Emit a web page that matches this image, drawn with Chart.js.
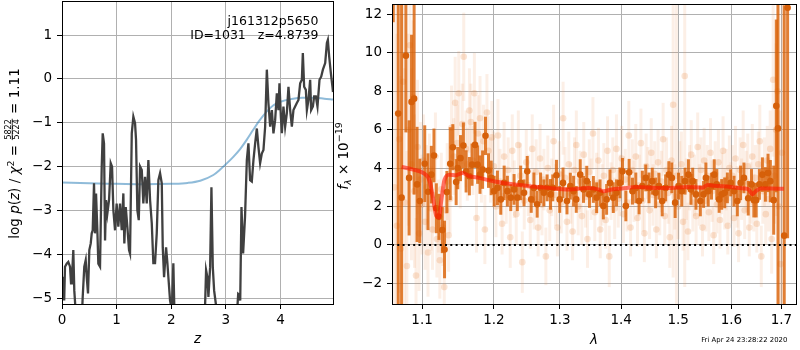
<!DOCTYPE html>
<html>
<head>
<meta charset="utf-8">
<title>j161312p5650 redshift fit</title>
<script src="https://cdn.jsdelivr.net/npm/chart.js@4.4.1/dist/chart.umd.min.js"></script>
<style>
  html, body { margin: 0; padding: 0; background: #fff; }
  #wrap { position: relative; width: 800px; height: 350px; }
  #pzChart { position: absolute; left: 0; top: 0; }
  #specChart { position: absolute; left: 335px; top: 0; }
</style>
</head>
<body>
<div id="wrap">
  <canvas id="pzChart" width="335" height="350"></canvas>
  <canvas id="specChart" width="465" height="350"></canvas>
</div>
<script>
// ============================================================
// p(z) + spectrum panels for a single grism extraction
// ============================================================

const FONT = 'DejaVu Sans';

// ── Left panel: log p(z) ─────────────────────────────────────
const zGrid = [
  0.000, 0.010, 0.040, 0.055, 0.086, 0.115, 0.147, 0.165, 0.183, 0.207,
  0.225, 0.250, 0.300, 0.340, 0.365, 0.379, 0.408, 0.434, 0.452, 0.476,
  0.500, 0.526, 0.544, 0.562, 0.586, 0.604, 0.623, 0.647, 0.665, 0.696,
  0.727, 0.745, 0.769, 0.788, 0.806, 0.830, 0.861, 0.892, 0.916, 0.940,
  0.971, 1.000, 1.031, 1.062, 1.093, 1.123, 1.141, 1.167, 1.196, 1.227,
  1.245, 1.277, 1.306, 1.337, 1.355, 1.379, 1.405, 1.429, 1.460, 1.489,
  1.520, 1.551, 1.581, 1.612, 1.643, 1.672, 1.703, 1.734, 1.764, 1.795,
  1.826, 1.844, 1.868, 1.905, 1.929, 1.947, 1.978, 2.010, 2.038, 2.057,
  2.200, 2.600, 2.637, 2.661, 2.680, 2.711, 2.735, 2.760, 2.784, 2.808,
  2.833, 2.950, 3.150, 3.205, 3.225, 3.245, 3.262, 3.285, 3.315, 3.350,
  3.383, 3.412, 3.443, 3.474, 3.504, 3.535, 3.566, 3.595, 3.626, 3.657,
  3.687, 3.718, 3.749, 3.778, 3.810, 3.841, 3.870, 3.901, 3.932, 3.962,
  3.980, 4.006, 4.024, 4.053, 4.084, 4.115, 4.145, 4.176, 4.207, 4.236,
  4.267, 4.298, 4.328, 4.359, 4.390, 4.408, 4.432, 4.463, 4.482, 4.511,
  4.542, 4.560, 4.592, 4.615, 4.646, 4.676, 4.713, 4.744, 4.775, 4.817,
  4.848, 4.866, 4.890, 4.921, 4.950, 4.960
];
const logPz = [
  -4.55, -4.51, -5.05, -4.28, -4.21, -4.17, -4.28, -4.66, -4.51, -3.90,
  -4.82, -5.30, -5.80, -5.80, -5.40, -4.97, -4.28, -4.13, -4.51, -4.89,
  -3.90, -3.75, -3.52, -3.45, -2.38, -3.52, -2.61, -3.45, -4.21, -4.28,
  -2.00, -1.24, -1.47, -3.68, -2.76, -3.07, -2.76, -1.92, -2.00, -2.99,
  -3.45, -2.84, -3.37, -2.84, -3.45, -2.61, -3.75, -2.92, -3.37, -3.90,
  -3.98, -1.24, -0.86, -1.01, -1.39, -2.99, -3.22, -2.00, -2.08, -2.84,
  -2.23, -2.84, -1.85, -2.76, -3.29, -4.20, -4.20, -3.52, -2.31, -2.15,
  -2.38, -3.84, -4.52, -3.84, -4.20, -4.52, -5.05, -5.27, -4.20, -5.30,
  -6.00, -6.00, -4.36, -4.52, -4.97, -4.29, -2.47, -4.29, -4.82, -5.05,
  -5.30, -6.00, -6.00, -5.30, -4.90, -4.92, -5.05, -2.92, -3.98, -3.14,
  -1.85, -1.47, -2.31, -2.34, -1.85, -1.47, -1.13, -1.55, -1.92, -1.70,
  -1.62, -1.09, 0.21, -0.55, -1.09, -0.71, -1.24, -0.94, -0.33, -0.71,
  -0.10, -0.86, -1.24, -0.63, -1.09, -0.78, -0.18, -0.71, -1.09, -0.71,
  -0.63, -0.55, -0.48, -0.10, -0.02, 0.59, -0.18, -0.25, -0.71, -0.48,
  -0.02, -0.71, -0.63, -0.40, -0.40, -0.63, -0.02, 0.05, 0.21, 0.36,
  0.82, 0.89, 0.51, 0.13, -0.18, -0.30
];
const zPrior = [0, 0.5, 1, 1.5, 2, 2.3, 2.53, 2.77, 2.89, 3.02, 3.14, 3.26,
  3.38, 3.5, 3.62, 3.75, 3.87, 4.0, 4.2, 4.4, 4.6, 4.8, 4.96];
const logPrior = [-2.36, -2.38, -2.39, -2.40, -2.39, -2.37, -2.32, -2.19, -2.07,
  -1.92, -1.77, -1.60, -1.39, -1.16, -0.94, -0.74, -0.60, -0.52, -0.46, -0.43,
  -0.43, -0.45, -0.47];
const zTicks = [0, 1, 2, 3, 4];
const pzTicks = [-5, -4, -3, -2, -1, 0, 1];

// ── Right panel: 1D spectrum ─────────────────────────────────
// grism pixels of the primary extraction
const darkLam = [
  1.0623, 1.0687, 1.0731, 1.0787, 1.0829, 1.0861, 1.0895, 1.0934, 1.0970, 1.1036,
  1.1080, 1.1125, 1.1160, 1.1192, 1.1227, 1.1273, 1.1304, 1.1336, 1.1382, 1.1418,
  1.1464, 1.1486, 1.1524, 1.1565, 1.1603, 1.1649, 1.1687, 1.1729, 1.1766, 1.1800,
  1.1837, 1.1879, 1.1922, 1.1961, 1.2004, 1.2052, 1.2101, 1.2150, 1.2198, 1.2248,
  1.2297, 1.2346, 1.2396, 1.2446, 1.2495, 1.2555, 1.2596, 1.2646, 1.2698, 1.2749,
  1.2799, 1.2852, 1.2887, 1.2945, 1.2996, 1.3048, 1.3111, 1.3164, 1.3216, 1.3259,
  1.3323, 1.3376, 1.3429, 1.3472, 1.3537, 1.3591, 1.3647, 1.3701, 1.3756, 1.3812,
  1.3867, 1.3922, 1.3979, 1.4023, 1.4080, 1.4136, 1.4193, 1.4251, 1.4307, 1.4364,
  1.4423, 1.4480, 1.4538, 1.4597, 1.4655, 1.4714, 1.4774, 1.4833, 1.4886, 1.4946,
  1.5007, 1.5066, 1.5126, 1.5188, 1.5236, 1.5267, 1.5328, 1.5409, 1.5470, 1.5513,
  1.5557, 1.5619, 1.5670, 1.5719, 1.5764, 1.5813, 1.5871, 1.5922, 1.5986, 1.6051,
  1.6115, 1.6179, 1.6245, 1.6329, 1.6394, 1.6441, 1.6487, 1.6552, 1.6612, 1.6672,
  1.6726, 1.6773, 1.6841, 1.6894, 1.6929, 1.7057, 1.7127
];
const darkFlux = [
  16.0, 6.84, 2.46, 9.86, 3.49, 7.45, 7.62, 3.15, 2.29, 4.23,
  2.77, 3.66, 4.66, 1.91, 1.46, 0.77, -0.24, 2.75, 4.23, 5.09,
  3.27, 4.00, 4.52, 5.18, 3.83, 3.58, 4.18, 5.21, 4.18, 3.66,
  3.92, 5.68, 3.87, 3.49, 2.80, 2.97, 2.37, 3.23, 2.80, 2.46,
  2.89, 2.46, 3.23, 2.71, 3.83, 2.37, 2.97, 2.12, 2.97, 2.71,
  2.97, 2.63, 2.97, 3.63, 2.37, 3.23, 2.29, 3.06, 2.80, 2.37,
  3.66, 2.89, 3.32, 2.63, 2.89, 2.46, 2.71, 2.03, 2.37, 3.23,
  2.46, 2.71, 3.23, 3.83, 2.03, 3.78, 2.80, 2.97, 2.29, 3.06,
  3.49, 2.97, 3.32, 2.71, 3.06, 2.29, 2.97, 3.66, 3.49, 2.20,
  3.06, 2.80, 3.32, 3.66, 2.89, 3.32, 2.63, 2.29, 2.63, 3.49,
  2.80, 3.06, 3.66, 3.15, 2.37, 2.63, 2.71, 2.97, 3.23, 2.80,
  2.29, 3.23, 3.49, 2.43, 3.15, 2.33, 2.33, 3.15, 3.66, 3.15,
  3.75, 3.32, 2.33, 7.24, 6.07, 0.48, 12.35
];
const darkErr = [
  4.4, 15, 15, 4, 3, 3.5, 5, 3, 2.2, 2.0,
  2.0, 1.5, 1.4, 1.3, 1.2, 1.2, 1.5, 1.1, 1.9, 1.2,
  1.2, 1.1, 1.2, 1.2, 1.1, 1.0, 1.1, 1.2, 1.0, 1.0,
  1.0, 1.0, 0.9, 0.9, 0.8, 0.9, 0.8, 0.9, 0.8, 0.7,
  0.8, 0.7, 0.9, 0.7, 0.8, 0.7, 0.8, 0.7, 0.8, 0.7,
  0.7, 0.8, 0.7, 0.8, 0.7, 0.8, 0.7, 0.7, 0.8, 0.7,
  0.8, 0.7, 0.8, 0.7, 0.7, 0.8, 0.7, 0.7, 0.8, 0.7,
  0.8, 0.7, 0.8, 0.7, 0.8, 0.7, 0.7, 0.8, 0.7, 0.8,
  0.7, 0.8, 0.7, 0.8, 0.7, 0.8, 0.7, 0.7, 0.8, 0.8,
  0.7, 0.8, 0.7, 0.8, 0.8, 0.7, 0.8, 0.8, 0.7, 0.8,
  0.8, 0.7, 0.8, 0.8, 0.7, 0.8, 0.8, 0.8, 0.7, 0.8,
  0.8, 0.9, 0.8, 0.9, 0.8, 0.9, 0.9, 0.8, 0.9, 0.9,
  1.0, 1.1, 1.8, 4.5, 12, 12, 12
];

// individual beams, drawn faint underneath
const faintLam = [
  1.064, 1.067, 1.070, 1.072, 1.075, 1.077, 1.080, 1.082, 1.084, 1.086, 1.088, 1.090, 1.092, 1.094, 1.096, 1.098,
  1.100, 1.102, 1.104, 1.106, 1.108, 1.110, 1.112, 1.114, 1.116, 1.118, 1.120, 1.122, 1.124, 1.126, 1.128, 1.130, 1.132, 1.134, 1.136, 1.138,
  1.140, 1.143, 1.145, 1.148, 1.150, 1.152, 1.155, 1.157, 1.160, 1.162, 1.165, 1.167, 1.170, 1.172, 1.175, 1.177, 1.180, 1.182, 1.185, 1.187, 1.190, 1.192, 1.195, 1.197,
  1.200, 1.203, 1.206, 1.209, 1.212, 1.215, 1.218, 1.221, 1.224, 1.227, 1.230, 1.233, 1.236, 1.239, 1.242, 1.245, 1.248,
  1.251, 1.254, 1.257, 1.260, 1.263, 1.266, 1.269, 1.272, 1.275, 1.278, 1.281, 1.284, 1.287, 1.290, 1.293, 1.296, 1.299,
  1.302, 1.305, 1.308, 1.311, 1.314, 1.317, 1.320, 1.323, 1.326, 1.329, 1.332, 1.335, 1.338, 1.341, 1.344, 1.347, 1.350,
  1.353, 1.356, 1.359, 1.362, 1.365, 1.368, 1.371, 1.374, 1.377, 1.380, 1.383, 1.386, 1.389, 1.392, 1.395, 1.398,
  1.401, 1.404, 1.407, 1.410, 1.413, 1.416, 1.419, 1.422, 1.425, 1.428, 1.431, 1.434, 1.437, 1.440, 1.443, 1.446, 1.449,
  1.452, 1.455, 1.458, 1.461, 1.464, 1.467, 1.470, 1.473, 1.476, 1.479, 1.482, 1.485, 1.488, 1.491, 1.494, 1.497,
  1.500, 1.503, 1.506, 1.509, 1.512, 1.515, 1.518, 1.521, 1.524, 1.527, 1.530, 1.533, 1.536, 1.539, 1.542, 1.545, 1.548,
  1.551, 1.554, 1.557, 1.560, 1.563, 1.566, 1.569, 1.572, 1.575, 1.578, 1.581, 1.584, 1.587, 1.590, 1.593, 1.596, 1.599,
  1.602, 1.605, 1.608, 1.611, 1.614, 1.617, 1.620, 1.623, 1.626, 1.629, 1.632, 1.635, 1.638, 1.641, 1.644, 1.647, 1.650,
  1.653, 1.656, 1.659, 1.662, 1.665, 1.668, 1.671, 1.674, 1.677, 1.680, 1.683, 1.686, 1.689, 1.692, 1.695, 1.698, 1.701
];
const faintFlux = [
  3.0, 1.0, 5.5, -0.2, 8.5, 2.2, -1.1, 6.0, 10.4, 4.2, 7.7, 2.8, -1.6, 5.1, 0.6, 3.4,
  2.1, 4.4, 1.2, 3.0, -0.4, 3.8, 1.9, 0.8, 2.6, 4.6, 0.3, 1.5, -0.8, 2.9, 0.9, -2.2, 1.8, 3.3, 0.5, 2.4,
  6.1, 4.6, 7.4, 5.3, 7.9, 3.8, 6.3, 9.8, 5.0, 4.2, 7.0, 6.4, 4.4, 7.9, 1.4, 5.8, 6.6, 4.0, 5.4, 0.8, 6.9, 4.9, 3.9, 5.6,
  4.1, 2.0, 5.7, 3.3, 1.1, 4.6, 2.6, 3.9, 0.4, 4.9, 2.9, 1.6, 5.2, 3.6, -0.9, 2.3, 4.3,
  3.1, 1.3, 5.0, 2.4, 3.8, 0.9, 4.5, 2.1, 3.4, -0.6, 4.0, 1.8, 3.0, 5.4, 2.6, 0.9, 3.7,
  2.2, 6.6, 3.5, 1.2, 4.2, 2.7, 0.7, 3.9, 5.2, 2.0, 3.3, 1.5, 4.7, 2.5, 0.3, 3.8, 2.9,
  5.8, 1.7, 3.2, 4.4, 0.8, 2.6, 3.6, 1.3, 4.9, -0.6, 2.8, 3.9, 1.9, 5.0, 2.4, 3.1,
  4.5, 1.6, 3.4, 2.2, 5.7, 0.9, 3.9, 2.8, 4.6, 1.4, 3.1, 5.3, 2.3, 0.6, 4.1, 3.5, 1.8,
  4.8, 2.6, 3.7, 0.8, 4.3, 2.1, 3.3, 5.5, 1.5, 3.9, 2.7, 0.4, 4.4, 7.3, 2.5, 3.6,
  2.0, 3.8, 4.2, 1.2, 8.8, 2.9, 0.7, 3.5, 4.7, 2.2, 3.1, 1.5, 5.1, 2.6, 3.9, 0.9, 4.4,
  2.3, 3.6, 1.7, 4.8, 2.8, 0.5, 3.7, 2.1, 4.3, 1.3, 3.2, 4.9, 2.4, 3.4, 1.0, 4.0, 2.7,
  3.6, 1.4, 4.5, 2.5, 0.6, 3.9, 2.9, 5.2, 1.8, 3.3, 4.1, 0.9, 2.7, 4.6, 2.2, 3.5, 1.1,
  4.2, 5.4, -0.6, 2.8, 3.8, 1.6, 4.4, 2.4, 5.0, 0.3, 8.6, 3.6, 6.0, 8.0, 2.0, -1.0, 4.8
];
const faintErr = [
  12, 10, 8, 9, 6, 7, 6, 5, 4, 5, 4, 4, 3, 3.5, 3, 3,
  2.6, 2.4, 2.5, 2.2, 2.3, 2.0, 2.2, 2.1, 2.0, 2.3, 2.0, 1.9, 2.0, 1.9, 2.0, 1.8, 1.8, 2.0, 1.9, 1.8,
  2.2, 2.0, 2.4, 2.0, 2.2, 1.9, 2.1, 2.3, 2.0, 1.9, 2.2, 2.0, 1.8, 2.1, 1.8, 2.0, 2.2, 1.8, 1.9, 1.8, 2.0, 1.8, 1.7, 1.9,
  1.8, 1.6, 1.9, 1.7, 1.6, 1.8, 1.5, 1.7, 1.6, 1.9, 1.5, 1.6, 1.8, 1.7, 1.6, 1.5, 1.7,
  1.6, 1.5, 1.8, 1.6, 1.7, 1.5, 1.8, 1.6, 1.6, 1.5, 1.7, 1.6, 1.5, 1.9, 1.6, 1.5, 1.7,
  1.6, 1.9, 1.6, 1.5, 1.7, 1.6, 1.5, 1.7, 1.8, 1.5, 1.6, 1.5, 1.7, 1.6, 1.5, 1.7, 1.6,
  1.9, 1.5, 1.6, 1.7, 1.5, 1.6, 1.7, 1.5, 1.8, 1.6, 1.5, 1.7, 1.6, 1.8, 1.5, 1.6,
  1.7, 1.5, 1.6, 1.5, 1.8, 1.5, 1.6, 1.6, 1.7, 1.5, 1.6, 1.8, 1.6, 1.5, 1.7, 1.6, 1.5,
  1.8, 1.6, 1.7, 1.5, 1.7, 1.6, 1.6, 1.9, 1.5, 1.7, 1.6, 1.6, 1.8, 9, 1.7, 10,
  1.7, 1.6, 1.7, 1.5, 11, 1.6, 1.5, 1.7, 1.8, 1.5, 1.6, 1.5, 1.8, 1.6, 1.7, 1.5, 1.7,
  1.6, 1.6, 1.5, 1.8, 1.6, 1.5, 1.7, 1.5, 1.7, 1.5, 1.6, 1.8, 1.6, 1.6, 1.5, 1.7, 1.6,
  1.6, 1.5, 1.7, 1.6, 1.5, 1.7, 1.6, 1.8, 1.5, 1.6, 1.7, 1.5, 1.6, 1.7, 1.5, 1.7, 1.5,
  1.7, 1.9, 1.6, 1.7, 1.8, 1.6, 1.8, 1.7, 2.0, 1.8, 4.0, 2.5, 4.5, 5.0, 6.0, 8.0, 9.0
];

// best-fit template
const modelLam = [1.0731, 1.0882, 1.1013, 1.1102, 1.1146, 1.1192, 1.1227, 1.1259, 1.1304,
  1.1372, 1.1463, 1.1554, 1.1648, 1.1789, 1.1933, 1.2223, 1.2517, 1.2825, 1.3137, 1.3457,
  1.3619, 1.3700, 1.3840, 1.4010, 1.4290, 1.4580, 1.4870, 1.5176, 1.5443, 1.5550, 1.5670,
  1.5986, 1.6245, 1.6340, 1.6410, 1.6480, 1.6580, 1.6780, 1.7049];
const modelFlux = [4.06, 3.92, 3.75, 3.32, 2.46, 1.51, 1.42, 2.29, 3.40,
  3.66, 3.63, 3.75, 3.58, 3.49, 3.37, 3.18, 3.06, 2.97, 2.89, 2.97,
  2.89, 2.80, 2.89, 2.94, 3.01, 2.97, 2.97, 3.02, 2.98, 3.12, 3.08,
  3.02, 2.94, 2.89, 2.63, 2.80, 2.94, 2.94, 2.92];

const lamRange = [1.0607, 1.7302];
const lamTicks = [1.1, 1.2, 1.3, 1.4, 1.5, 1.6, 1.7];
const fluxTicks = [-2, 0, 2, 4, 6, 8, 10, 12];

// ── Helpers ──────────────────────────────────────────────────
const zip = (xs, ys) => xs.map((x, i) => ({ x, y: ys[i] }));
const minusFmt = v => (v < 0 ? '\u2212' + Math.abs(v) : String(v));

const setTicks = values => scale => { scale.ticks = values.map(v => ({ value: v })); };

// pin the axis box so the plot area lands where we want it
const fixSize = size => scale => {
  if (scale.isHorizontal()) scale.height = size; else scale.width = size;
  scale.paddingTop = scale.paddingBottom = scale.paddingLeft = scale.paddingRight = 0;
};

const gridOpts = { color: '#b0b0b0', lineWidth: 1, tickColor: '#000', tickLength: 5, drawTicks: true };
const tickFont = { family: FONT, size: 13.5 };

const runFont = r => `${r.italic ? 'italic ' : ''}${r.size}px ${FONT}`;

// mixed-size text (sub/superscripts, a stacked fraction) centred on the origin
function drawRuns(ctx, runs) {
  ctx.textAlign = 'left';
  ctx.textBaseline = 'alphabetic';
  const widths = runs.map(r => {
    ctx.font = runFont(r);
    if (r.num) return Math.max(ctx.measureText(r.num).width, ctx.measureText(r.den).width) + 2;
    return ctx.measureText(r.text).width;
  });
  let x = -widths.reduce((s, w) => s + w, 0) / 2;
  runs.forEach((r, i) => {
    ctx.font = runFont(r);
    const w = widths[i];
    if (r.num) {
      ctx.textAlign = 'center';
      ctx.fillText(r.num, x + w / 2, -8.0);
      ctx.fillText(r.den, x + w / 2, -0.4);
      ctx.fillRect(x + 0.5, -7.2, w - 1, 0.8);
      ctx.textAlign = 'left';
    } else {
      ctx.fillText(r.text, x, r.dy || 0);
    }
    x += w;
  });
}

// ── Plugins ──────────────────────────────────────────────────
const frame = {
  id: 'frame',
  afterDraw(chart) {
    const { ctx, chartArea: a } = chart;
    ctx.save();
    ctx.strokeStyle = '#000';
    ctx.lineWidth = 1;
    ctx.strokeRect(a.left + 0.5, a.top + 0.5, a.right - a.left, a.bottom - a.top);
    ctx.restore();
  }
};

// vertical error bars, drawn just before each dataset's markers
const errorBars = {
  id: 'errorBars',
  beforeDatasetDraw(chart, args) {
    const ds = chart.data.datasets[args.index];
    if (!ds.errors) return;
    const { ctx, chartArea: a, scales: { x, y } } = chart;
    ctx.save();
    ctx.beginPath();
    ctx.rect(a.left, a.top, a.right - a.left, a.bottom - a.top);
    ctx.clip();
    ctx.strokeStyle = ds.errorColor;
    ctx.lineWidth = ds.errorWidth;
    ds.data.forEach((p, i) => {
      const px = x.getPixelForValue(p.x);
      ctx.beginPath();
      ctx.moveTo(px, y.getPixelForValue(p.y - ds.errors[i]));
      ctx.lineTo(px, y.getPixelForValue(p.y + ds.errors[i]));
      ctx.stroke();
    });
    ctx.restore();
  }
};

const pzText = {
  id: 'pzText',
  afterDraw(chart) {
    const { ctx, chartArea: a } = chart;
    ctx.save();
    ctx.fillStyle = '#000';
    ctx.textBaseline = 'alphabetic';
    ctx.textAlign = 'right';
    ctx.font = `12.5px ${FONT}`;
    ctx.fillText('j161312p5650', a.right - 14.5, 24.5);
    ctx.fillText('ID=1031   z=4.8739', a.right - 14.5, 39);

    ctx.textAlign = 'center';
    ctx.font = `italic 13.5px ${FONT}`;
    ctx.fillText('z', (a.left + a.right) / 2, 343);

    ctx.translate(19, (a.top + a.bottom) / 2 + 1);
    ctx.rotate(-Math.PI / 2);
    drawRuns(ctx, [
      { text: 'log ', size: 13.5 },
      { text: 'p', size: 13.5, italic: true },
      { text: '(', size: 13.5 },
      { text: 'z', size: 13.5, italic: true },
      { text: ') / ', size: 13.5 },
      { text: 'χ', size: 13.5, italic: true },
      { text: '2', size: 9.5, dy: -5.5 },
      { text: ' = ', size: 13.5 },
      { num: '5822', den: '5224', size: 8 },
      { text: ' = 1.11', size: 13.5 }
    ]);
    ctx.restore();
  }
};

const specText = {
  id: 'specText',
  afterDraw(chart) {
    const { ctx, chartArea: a } = chart;
    ctx.save();
    ctx.fillStyle = '#000';
    ctx.textBaseline = 'alphabetic';
    ctx.textAlign = 'center';
    ctx.font = `italic 13.5px ${FONT}`;
    ctx.fillText('λ', (a.left + a.right) / 2, 344);

    ctx.textAlign = 'right';
    ctx.font = `6.9px ${FONT}`;
    ctx.fillText('Fri Apr 24 23:28:22 2020', chart.width - 12.7, 342);

    ctx.translate(13, (a.top + a.bottom) / 2 + 2);
    ctx.rotate(-Math.PI / 2);
    drawRuns(ctx, [
      { text: 'f', size: 13.5, italic: true },
      { text: 'λ', size: 9.5, italic: true, dy: 3 },
      { text: ' × 10', size: 13.5 },
      { text: '\u221219', size: 9.5, dy: -6 }
    ]);
    ctx.restore();
  }
};

Chart.defaults.font.family = FONT;

const baseOptions = {
  responsive: false,
  animation: false,
  devicePixelRatio: 1,
  events: [],
  plugins: { legend: { display: false }, tooltip: { enabled: false } }
};

// ── Left chart: p(z) ─────────────────────────────────────────
new Chart(document.getElementById('pzChart'), {
  type: 'line',
  data: {
    datasets: [
      {
        data: zip(zGrid, logPz),
        borderColor: '#404040',
        borderWidth: 2.3,
        pointRadius: 0,
        clip: 0,
        order: 0
      },
      {
        data: zip(zPrior, logPrior),
        borderColor: 'rgba(31,119,180,0.5)',
        borderWidth: 2,
        pointRadius: 0,
        cubicInterpolationMode: 'monotone',
        clip: 0,
        order: 1
      }
    ]
  },
  options: {
    ...baseOptions,
    layout: { padding: { left: 0, right: 2, top: 1, bottom: 0 } },
    scales: {
      x: {
        type: 'linear', min: 0, max: 4.96,
        afterBuildTicks: setTicks(zTicks),
        afterFit: fixSize(46),
        grid: gridOpts,
        border: { display: false },
        ticks: { font: tickFont, color: '#000', padding: 3, maxRotation: 0, autoSkip: false, callback: minusFmt }
      },
      y: {
        type: 'linear', min: -5.13, max: 1.775,
        afterBuildTicks: setTicks(pzTicks),
        afterFit: fixSize(62),
        grid: gridOpts,
        border: { display: false },
        ticks: { font: tickFont, color: '#000', padding: 5, autoSkip: false, callback: minusFmt }
      }
    }
  },
  plugins: [errorBars, pzText, frame]
});

// ── Right chart: spectrum ────────────────────────────────────
new Chart(document.getElementById('specChart'), {
  type: 'scatter',
  data: {
    datasets: [
      {
        data: zip(lamRange, [0, 0]),
        showLine: true,
        borderColor: '#000',
        borderWidth: 2,
        borderDash: [2, 3.3],
        pointRadius: 0,
        clip: 0,
        order: 0
      },
      {
        data: zip(modelLam, modelFlux),
        showLine: true,
        borderColor: 'rgba(255,20,0,0.6)',
        borderWidth: 4,
        cubicInterpolationMode: 'monotone',
        pointRadius: 0,
        clip: 0,
        order: 1
      },
      {
        data: zip(darkLam, darkFlux),
        errors: darkErr,
        errorColor: 'rgba(217,95,2,0.8)',
        errorWidth: 3,
        pointRadius: 3.3,
        pointBackgroundColor: 'rgb(214,96,10)',
        pointBorderWidth: 0,
        clip: 0,
        order: 2
      },
      {
        data: zip(faintLam, faintFlux),
        errors: faintErr,
        errorColor: 'rgba(236,140,80,0.14)',
        errorWidth: 3,
        pointRadius: 3.3,
        pointBackgroundColor: 'rgba(232,130,60,0.22)',
        pointBorderWidth: 0,
        clip: 0,
        order: 3
      }
    ]
  },
  options: {
    ...baseOptions,
    layout: { padding: { left: 0, right: 1, top: 1, bottom: 0 } },
    scales: {
      x: {
        type: 'logarithmic', min: lamRange[0], max: lamRange[1],
        afterBuildTicks: setTicks(lamTicks),
        afterFit: fixSize(46),
        grid: gridOpts,
        border: { display: false },
        ticks: { font: tickFont, color: '#000', padding: 3, maxRotation: 0, autoSkip: false, callback: v => v.toFixed(1) }
      },
      y: {
        type: 'linear', min: -3.08, max: 12.55,
        afterBuildTicks: setTicks(fluxTicks),
        afterFit: fixSize(57),
        grid: gridOpts,
        border: { display: false },
        ticks: { font: tickFont, color: '#000', padding: 5, autoSkip: false, callback: minusFmt }
      }
    }
  },
  plugins: [errorBars, specText, frame]
});
</script>
</body>
</html>
